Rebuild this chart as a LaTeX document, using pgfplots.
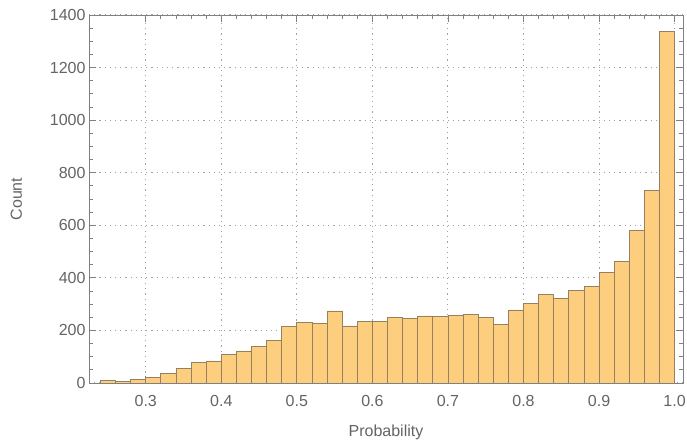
\documentclass[border=0pt]{standalone}
\usepackage{fontspec}
\setmainfont{Liberation Sans}
\usepackage{pgfplots}
\pgfplotsset{compat=1.18}

\definecolor{barfill}{RGB}{252,206,126}
\definecolor{baredge}{RGB}{150,128,95}
\definecolor{framegray}{RGB}{128,128,128}
\definecolor{textgray}{RGB}{100,100,100}
\definecolor{gridgray}{RGB}{160,160,160}

\begin{document}
\begin{tikzpicture}
\begin{axis}[
    scale only axis,
    width=594pt, height=368pt,
    xmin=0.2249, xmax=1.0111,
    ymin=0, ymax=1400,
    xtick={0.3,0.4,0.5,0.6,0.7,0.8,0.9,1.0},
    minor x tick num=4,
    ytick={0,200,400,600,800,1000,1200,1400},
    minor y tick num=3,
    tick align=inside,
    major tick length=7pt,
    minor tick length=4pt,
    axis line style={framegray, line width=0.8pt},
    every tick/.style={framegray, line width=0.8pt},
    grid=major,
    major grid style={gridgray, line width=1pt, dash pattern=on 1.2pt off 4pt},
    xticklabel style={yshift=-9pt, /pgf/number format/.cd, fixed, fixed zerofill, precision=1},
    yticklabel style={/pgf/number format/1000 sep={}},
    /pgf/number format/assume math mode=true,
    ticklabel style={font=\fontsize{16}{19}\selectfont, text=textgray},
    label style={font=\fontsize{16}{19}\selectfont, text=textgray},
    xlabel={Probability},
    ylabel={Count},
    xlabel style={yshift=-11pt},
    ylabel style={yshift=21pt},
]
\addplot[ybar interval, fill=barfill, draw=baredge, line width=0.8pt]
coordinates {
(0.24,8) (0.26,5) (0.28,12) (0.30,22) (0.32,38) (0.34,56) (0.36,79) (0.38,84)
(0.40,109) (0.42,122) (0.44,139) (0.46,161) (0.48,216) (0.50,232) (0.52,228)
(0.54,274) (0.56,217) (0.58,234) (0.60,234) (0.62,248) (0.64,245) (0.66,255)
(0.68,253) (0.70,256) (0.72,260) (0.74,251) (0.76,224) (0.78,278) (0.80,302)
(0.82,338) (0.84,321) (0.86,353) (0.88,366) (0.90,420) (0.92,462) (0.94,581)
(0.96,731) (0.98,1336) (1.00,0)
};
\end{axis}
\pgfresetboundingbox
\path ([xshift=-89pt,yshift=-61pt]current axis.south west) rectangle ([xshift=4pt,yshift=15pt]current axis.north east);
\end{tikzpicture}
\end{document}
